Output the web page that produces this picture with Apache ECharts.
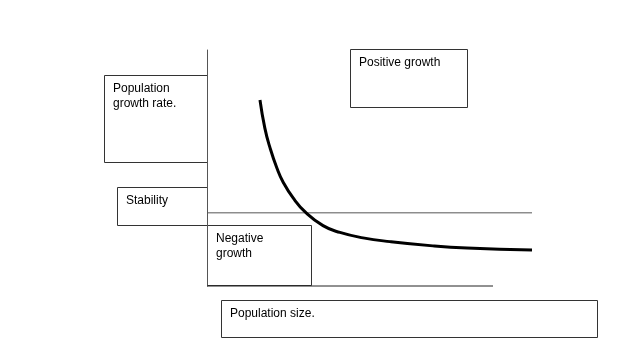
<!DOCTYPE html>
<html>
<head>
<meta charset="utf-8">
<script src="https://cdn.jsdelivr.net/npm/echarts@6/dist/echarts.min.js"></script>
<style>
html, body { margin: 0; padding: 0; background: #fff; }
#chart { width: 624px; height: 351px; }
</style>
</head>
<body>
<div id="chart"></div>
<script>
// curve: population size (x) vs growth rate (y)
var sizeValues = [16.3, 17.8, 19.4, 21.5, 23.4, 26.5, 30.2, 35.7, 40.9, 48, 56.3, 69.5, 80, 100];
var rateValues = [47.8, 35.9, 27.5, 19.0, 13.1, 6.3, 0.4, -5.4, -8.3, -10.6, -12.2, -14.0, -14.9, -15.7];
var stabilityLine = [[0, 0], [100, 0]];
var baseLine = [[0, -31], [88, -31]];

var boxStyle = { fill: '#fff', stroke: '#333', lineWidth: 1 };
var font = '12px "Liberation Sans", Arial, sans-serif';

function box(x, y, w, h, label) {
    return {
        type: 'group',
        children: [{
            type: 'rect',
            shape: { x: x + 0.5, y: y + 0.5, width: w, height: h },
            style: boxStyle
        }, {
            type: 'text',
            x: x + 9,
            y: y + 6,
            style: { text: label, font: font, fill: '#000', lineHeight: 15 }
        }]
    };
}

var myChart = echarts.init(document.getElementById('chart'));
var curve = sizeValues.map(function (v, i) { return [v, rateValues[i]]; });

var option = {
    backgroundColor: '#fff',
    animation: false,
    grid: { left: 207, top: 50, width: 325, height: 236 },
    xAxis: {
        type: 'value', min: 0, max: 100,
        axisLine: { show: false }, axisTick: { show: false },
        axisLabel: { show: false }, splitLine: { show: false }
    },
    yAxis: {
        type: 'value', min: -31, max: 69,
        axisLine: { show: true, onZero: false, lineStyle: { color: '#555', width: 1 } },
        axisTick: { show: false },
        axisLabel: { show: false }, splitLine: { show: false }
    },
    series: [{
        type: 'line', data: stabilityLine, symbol: 'none',
        lineStyle: { color: '#555', width: 1 }, z: 1
    }, {
        type: 'line', data: baseLine, symbol: 'none', clip: false,
        lineStyle: { color: '#222', width: 1 }, z: 1
    }, {
        type: 'line', data: curve, symbol: 'none', smooth: 0.5,
        lineStyle: { color: '#000', width: 3 }, z: 3
    }],
    graphic: [
        box(104, 75, 103, 87, 'Population\ngrowth rate.'),
        box(117, 187, 90, 38, 'Stability'),
        box(207, 225, 104, 60, 'Negative\ngrowth'),
        box(350, 49, 117, 58, 'Positive growth'),
        box(221, 300, 376, 37, 'Population size.')
    ]
};
myChart.setOption(option);
</script>
</body>
</html>
